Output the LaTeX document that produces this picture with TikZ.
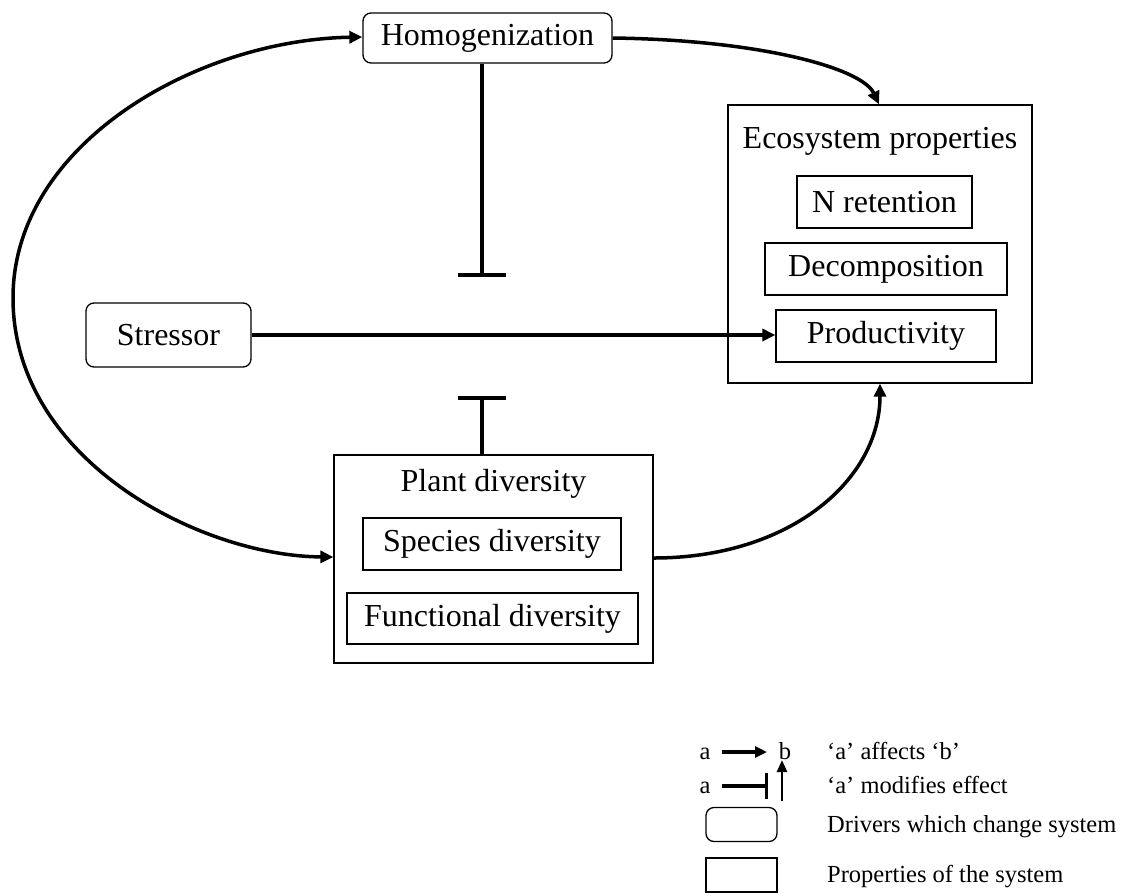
\documentclass[tikz,border=0pt]{standalone}
\usepackage{fontspec}
\setmainfont{Liberation Serif}
\usetikzlibrary{arrows.meta}
\newcommand{\mainsz}{\fontsize{32}{38}\selectfont}
\newcommand{\legsz}{\fontsize{24.5}{29}\selectfont}
\tikzset{
  driver/.style={draw, rounded corners=8pt, line width=1.3pt, inner sep=0pt, font=\mainsz},
  prop/.style={draw, line width=1.3pt, inner sep=0pt, font=\mainsz},
  title/.style={inner sep=0pt, font=\mainsz},
  conn/.style={line width=3.5pt, -{Triangle[length=13pt,width=12pt]}},
  inhib/.style={line width=4pt, -{Bar[width=48pt]}},
  legtext/.style={anchor=base west, inner sep=0pt, font=\legsz},
  legletter/.style={anchor=base, inner sep=0pt, font=\legsz},
  legbox/.style={draw, line width=1.3pt, minimum width=71pt, minimum height=34pt, inner sep=0pt}
}
\begin{document}
\begin{tikzpicture}[x=1pt,y=-1pt]
\useasboundingbox (0,0) rectangle (1125,895);

% main nodes
\node[driver, minimum width=249pt, minimum height=50pt] (homog) at (487.5,38) {Homogenization};
\node[prop, minimum width=304pt, minimum height=278pt] (eco) at (880,244) {};
\node[title] (ecot) at (880,141) {Ecosystem properties};
\node[prop, minimum width=175pt, minimum height=52pt] (nret) at (884.5,202) {N retention};
\node[prop, minimum width=242pt, minimum height=52pt] (decomp) at (886,269) {Decomposition};
\node[prop, minimum width=220pt, minimum height=52pt] (prod) at (886,336) {Productivity};
\node[driver, minimum width=165pt, minimum height=64pt] (stress) at (168.5,335) {Stressor};
\node[prop, minimum width=319pt, minimum height=208pt] (plant) at (493.5,559) {};
\node[title] (plantt) at (493.5,484) {Plant diversity};
\node[prop, minimum width=258pt, minimum height=52pt] (species) at (492,544) {Species diversity};
\node[prop, minimum width=291pt, minimum height=51pt] (func) at (492.5,618.5) {Functional diversity};

% connectors
\coordinate (bar1) at (482,277);
\coordinate (bar2) at (482,396);
\draw[inhib] (homog.south -| bar1) -- (bar1);
\draw[inhib] (plant.north -| bar2) -- (bar2);
\draw[conn] (stress.east) -- (stress.east -| prod.west);

\coordinate (left) at (13,298);
\draw[line width=3.5pt, {Triangle[length=13pt,width=12pt]}-{Triangle[length=13pt,width=12pt]}]
  ([yshift=2pt]plant.west) .. controls (200,556) and (13,460) .. (left)
  .. controls (13,145) and (195,40) .. ([yshift=1pt]homog.west);
\draw[conn] (homog.east) .. controls (760,40) and (862,68) .. (eco.north -| 879,0);
\draw[conn] ([yshift=1pt]plant.east) .. controls (790,558) and (880,480) .. (eco.south -| 880,0);

% legend
\node[legletter] (la1) at (705,759) {a};
\node[legletter] (lb1) at (785,759) {b};
\coordinate (a1s) at (722,752);
\coordinate (a1e) at (767,752);
\draw[line width=3.5pt, -{Triangle[length=12pt,width=11pt]}] (a1s) -- (a1e);
\node[legtext] (t1) at (827,759) {‘a’ affects ‘b’};

\node[legletter] (la2) at (705,793) {a};
\coordinate (a2s) at (722,786);
\coordinate (a2e) at (768,786);
\draw[line width=3.5pt, -{Bar[width=26pt]}] (a2s) -- (a2e);
\coordinate (u2s) at (782,801);
\coordinate (u2e) at (782,760);
\draw[line width=2.5pt, -{Triangle[length=12pt,width=10pt]}] (u2s) -- (u2e);
\node[legtext] (t2) at (827,793) {‘a’ modifies effect};

\node[legbox, rounded corners=8pt] (lbox1) at (741.5,824.5) {};
\node[legtext] (t3) at (827,832) {Drivers which change system};
\node[legbox] (lbox2) at (741.5,875) {};
\node[legtext] (t4) at (827,882) {Properties of the system};
\end{tikzpicture}
\end{document}
